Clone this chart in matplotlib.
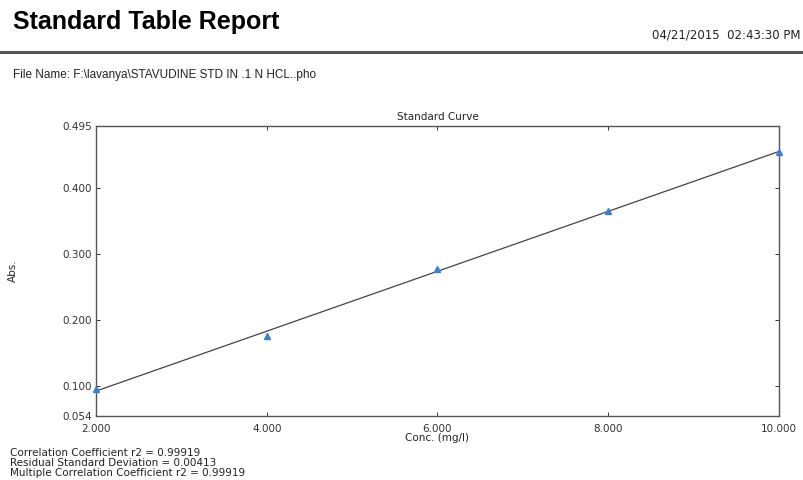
import matplotlib.pyplot as plt
import numpy as np

plt.rcParams['font.family'] = ['Liberation Sans', 'DejaVu Sans']

# Standard points
conc = [2.0, 4.0, 6.0, 8.0, 10.0]
absorb = [0.0955, 0.176, 0.277, 0.366, 0.456]

xticks = [2.0, 4.0, 6.0, 8.0, 10.0]
xtick_labels = ['2.000', '4.000', '6.000', '8.000', '10.000']
yticks = [0.054, 0.100, 0.200, 0.300, 0.400, 0.495]
ytick_labels = ['0.054', '0.100', '0.200', '0.300', '0.400', '0.495']

stats = ['Correlation Coefficient r2 = 0.99919',
         'Residual Standard Deviation = 0.00413',
         'Multiple Correlation Coefficient r2 = 0.99919']

small = ['DejaVu Sans']

fig = plt.figure(figsize=(8.04, 4.80), dpi=100)

# header
fig.text(0.016, 0.955, 'Standard Table Report', fontsize=18, fontweight='bold',
         va='center', ha='left')
fig.text(0.996, 0.927, '04/21/2015  02:43:30 PM', fontsize=8.5, va='center', ha='right',
         color='#222222', family=small)
fig.add_artist(plt.Line2D([0, 1], [0.892, 0.892], color='#555555', lw=2.2))
fig.text(0.016, 0.843, 'File Name: F:\\lavanya\\STAVUDINE STD IN .1 N HCL..pho',
         fontsize=8.5, va='center', ha='left', color='#222222')

# plot area
ax = fig.add_axes([96 / 804, 1 - 416 / 480, (779 - 96) / 804, (416 - 126) / 480])

# regression line
slope, icpt = np.polyfit(conc, absorb, 1)
xx = np.array([conc[0], conc[-1]])
ax.plot(xx, slope * xx + icpt, color='#444444', lw=0.9, zorder=2)
ax.plot(conc, absorb, linestyle='none', marker='^', ms=4.5, color='#3a7fd0',
        clip_on=False, zorder=3)

ax.set_xlim(2, 10)
ax.set_ylim(0.054, 0.495)
ax.set_xticks(xticks)
ax.set_xticklabels(xtick_labels, family=small)
ax.set_yticks(yticks)
ax.set_yticklabels(ytick_labels, family=small)
ax.tick_params(direction='in', length=3, width=0.7, labelsize=7.5, colors='#333333',
               top=True, right=True)
ax.tick_params(axis='x', pad=6)
ax.tick_params(axis='y', pad=3)
for s in ax.spines.values():
    s.set_color('#555555')
    s.set_linewidth(1.0)

ax.set_title('Standard Curve', fontsize=7.5, pad=4, color='#222222', family=small)
ax.set_xlabel('Conc. (mg/l)', fontsize=7.5, labelpad=-1, color='#222222', family=small)
ax.set_ylabel('Abs.', fontsize=7.5, color='#222222', family=small)
ax.yaxis.set_label_coords(-0.115, 0.5)

for i, line in enumerate(stats):
    fig.text(0.012, 0.057 - i * 0.021, line, fontsize=7.5, va='center', ha='left',
             color='#222222', family=small)

fig.savefig('out.png', dpi=100)
